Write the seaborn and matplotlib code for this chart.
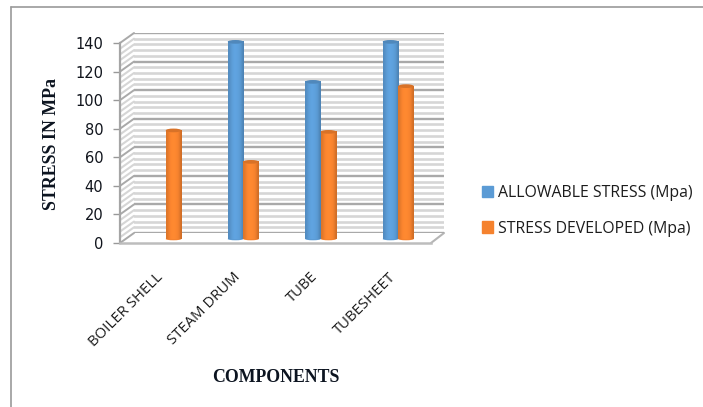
import numpy as np
import pandas as pd
import seaborn as sns
import matplotlib.pyplot as plt
from matplotlib.lines import Line2D
from matplotlib.patches import ConnectionPatch, Ellipse, Patch
from matplotlib.transforms import ScaledTranslation

componenti = ["BOILER SHELL", "STEAM DRUM", "TUBE", "TUBESHEET"]
allowable = [np.nan, 138, 110, 138]
developed = [76, 54, 75, 107]
tick_major = [0, 20, 40, 60, 80, 100, 120, 140]
tick_minor = [v for v in range(0, 141, 4) if v % 20 != 0]
nome_a = "ALLOWABLE STRESS (Mpa)"
nome_b = "STRESS DEVELOPED (Mpa)"

W, H = 703, 407
BLU = "#5B9BD5"
ARANCIO = "#F5822E"

df = pd.DataFrame({
    "componente": componenti * 2,
    "stress": allowable + developed,
    "serie": [nome_a] * 4 + [nome_b] * 4,
})

sns.set_theme(style="white")
plt.rcParams["font.family"] = ["DejaVu Sans"]

fig = plt.figure(figsize=(W / 100, H / 100), dpi=100)


def box(x0, x1, y_basso, y_alto):
    # rettangolo in pixel, origine in alto a sinistra
    return [x0 / W, 1 - y_basso / H, (x1 - x0) / W, (y_basso - y_alto) / H]


# tre piani alla stessa scala: parete di fondo, fronte, barre
fondo = fig.add_axes(box(134, 444, 233, 33))
fronte = fig.add_axes(box(120, 431, 243, 43))
ax = fig.add_axes(box(127, 437, 239, 39))

for a in (fondo, fronte, ax):
    a.set_ylim(0, 140)
    a.patch.set_alpha(0)
    sns.despine(ax=a, left=True, bottom=True)

fondo.set_xlim(0, 1)
fondo.set_xticks([])
fondo.set_yticks([])
trans_fondo = fondo.get_yaxis_transform()
trans_fronte = fronte.get_yaxis_transform()

for v in tick_minor:
    fondo.axhline(v, color="#d6d6d6", lw=1.9, zorder=1)
    fondo.add_artist(ConnectionPatch((0, v), (0, v), trans_fronte, trans_fondo,
                                     color="#d6d6d6", lw=1.5))
for v in tick_major:
    fondo.axhline(v, color="#a9a9a9", lw=1.7, zorder=2)
    fondo.add_artist(ConnectionPatch((0, v), (0, v), trans_fronte, trans_fondo,
                                     color="#a9a9a9", lw=1.4))
# bordo destro del pavimento
fondo.add_artist(ConnectionPatch((1, 0), (1, 0), trans_fronte, trans_fondo,
                                 color="#b5b5b5", lw=1.5))

fronte.set_xlim(0, 1)
fronte.set_xticks([])
fronte.set_yticks(tick_major)
fronte.tick_params(axis="y", length=5, width=1, color="#999999", pad=7,
                   left=True, labelsize=10.5, labelcolor="#10141c")
fronte.spines["left"].set_visible(True)
fronte.spines["left"].set_color("#a5a5a5")
fronte.spines["left"].set_linewidth(1.6)
fronte.spines["bottom"].set_visible(True)
fronte.spines["bottom"].set_color("#bdbdbd")
fronte.spines["bottom"].set_linewidth(1.8)

sns.barplot(data=df, x="componente", y="stress", hue="serie",
            palette=[BLU, ARANCIO], width=0.4, gap=0, saturation=1,
            legend=False, ax=ax)
ax.set_xlim(-0.5, 3.5)
ax.set_ylim(0, 140)
ax.set_xlabel("")
ax.set_ylabel("")
ax.set_yticks([])
ax.tick_params(axis="x", length=0, pad=22)
ax.set_xticks(range(len(componenti)))
ax.set_xticklabels(componenti, rotation=45, ha="right", rotation_mode="anchor",
                   fontsize=10.7, color="#1c1c1c", fontfamily="Open Sans")
sposta = ScaledTranslation(-10 / 100, 0, fig.dpi_scale_trans)
for lab in ax.get_xticklabels():
    lab.set_transform(lab.get_transform() + sposta)

# barre come cilindri: sfumatura orizzontale e tappo ellittico
ombra = np.array([0.9, 0.98, 1.04, 1.06, 1.05, 1.02, 0.98, 0.84])
for cont in ax.containers:
    for barra in cont:
        h = barra.get_height()
        if not np.isfinite(h) or h == 0:
            continue
        x0 = barra.get_x()
        w = barra.get_width()
        rgb = np.array(barra.get_facecolor()[:3])
        grad = np.clip(np.outer(ombra, rgb), 0, 1)[np.newaxis, :, :]
        ax.imshow(grad, extent=(x0, x0 + w, 0, h), aspect="auto",
                  interpolation="bicubic", zorder=3, clip_on=False)
        barra.set_visible(False)
        ax.add_patch(Ellipse((x0 + w / 2, h), w, 2.6, color=rgb * 0.88,
                             zorder=4, clip_on=False, lw=0))
        ax.add_patch(Ellipse((x0 + w / 2, 0), w, 1.8, color=rgb,
                             zorder=2, clip_on=False, lw=0))
ax.set_xlim(-0.5, 3.5)
ax.set_ylim(0, 140)

fig.text(51 / W, 1 - 144 / H, "STRESS IN MPa", rotation=90, ha="center", va="center",
         fontsize=12.9, fontweight="bold", fontfamily="Liberation Serif", color="#0c1420")
fig.text(276 / W, 1 - 377 / H, "COMPONENTS", ha="center", va="center",
         fontsize=12.8, fontweight="bold", fontfamily="Liberation Serif", color="#0c1420")

maniglie = [Patch(color=BLU, label=nome_a), Patch(color=ARANCIO, label=nome_b)]
fig.legend(handles=maniglie, loc="upper left", bbox_to_anchor=(477 / W, 1 - 180 / H),
           frameon=False, prop={"family": "Open Sans", "size": 11.4},
           labelcolor="#1c1c1c", handlelength=0.7, handleheight=0.7,
           handletextpad=0.3, labelspacing=1.25, borderpad=0.3, borderaxespad=0)

# cornice dello screenshot
fig.add_artist(Line2D([11 / W, 1], [1 - 7 / H, 1 - 7 / H], color="#9a9a9a", lw=1.2))
fig.add_artist(Line2D([11 / W, 11 / W], [0, 1 - 7 / H], color="#9a9a9a", lw=1.2))

fig.savefig("out.png", dpi=100)
